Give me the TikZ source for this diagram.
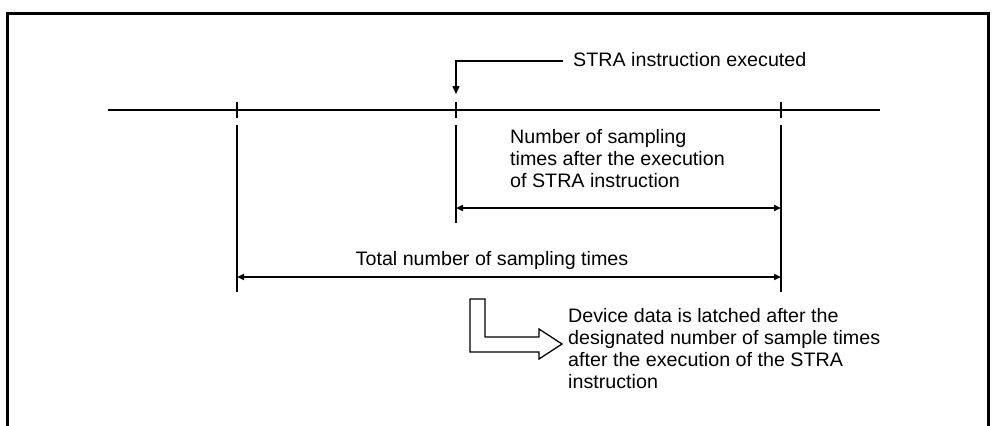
\documentclass[tikz,border=0pt]{standalone}
\usepackage{fontspec}
\setmainfont[FakeStretch=1.01]{Liberation Sans}
\usetikzlibrary{arrows.meta}
\begin{document}
\begin{tikzpicture}[x=1pt,y=-1pt,
  line/.style={line width=2pt},
  tick/.style={line width=2pt},
  dim/.style={line width=1.8pt,{Triangle[length=7pt,width=6pt]}-{Triangle[length=7pt,width=6pt]}},
  lbl/.style={inner sep=0pt,font=\fontsize{19.5}{22}\selectfont,align=left},
  frame/.style={line width=3pt},
  hollow/.style={line width=1.3pt,draw=black,fill=white}]
\useasboundingbox (0,0) rectangle (994,426);
% frame
\draw[frame] (7,426) -- (7,13) -- (988,13) -- (988,426);
% timeline
\coordinate (tl) at (108,110);
\coordinate (tr) at (880,110);
\draw[line] (tl) -- (tr);
% ticks
\foreach \n/\x in {a/237,b/456,c/781}{
  \coordinate (t\n top) at (\x,102);
  \coordinate (t\n bot) at (\x,118);
  \draw[tick] (t\n top) -- (t\n bot);
}
% verticals
\coordinate (va) at (237,125); \coordinate (vaend) at (237,292);
\coordinate (vb) at (456,125); \coordinate (vbend) at (456,223);
\coordinate (vc) at (781,125); \coordinate (vcend) at (781,292);
\draw[tick] (va) -- (vaend);
\draw[tick] (vb) -- (vbend);
\draw[tick] (vc) -- (vcend);
% dimension arrows
\coordinate (d1l) at (456,208); \coordinate (d1r) at (781,208);
\coordinate (d2l) at (237,277); \coordinate (d2r) at (781,277);
\draw[dim] (d1l) -- (d1r);
\draw[dim] (d2l) -- (d2r);
% labels
\node[lbl,anchor=base west] (exec) at (573,66) {STRA instruction executed};
\coordinate (ldr) at (563,61);
\coordinate (ldrc) at (456,61);
\coordinate (ldrtip) at (456,94);
\draw[line width=1.3pt,-{Triangle[length=8pt,width=7pt]}] (ldr) -- (ldrc) -- (ldrtip);
\node[lbl,anchor=north west] (after) at (510,129) {Number of sampling\\times after the execution\\of STRA instruction};
\node[lbl,anchor=base] (total) at (492,265) {Total number of sampling times};
% hollow L arrow
\draw[hollow] (470,299) -- (485,299) -- (485,337) -- (539,337) -- (539,329)
  -- (562,344) coordinate (hl) -- (539,359) -- (539,352) -- (470,352) -- cycle;
\node[lbl,anchor=north west] (dev) at (568,308) {Device data is latched after the\\designated number of sample times\\after the execution of the STRA\\instruction};
\end{tikzpicture}
\end{document}
